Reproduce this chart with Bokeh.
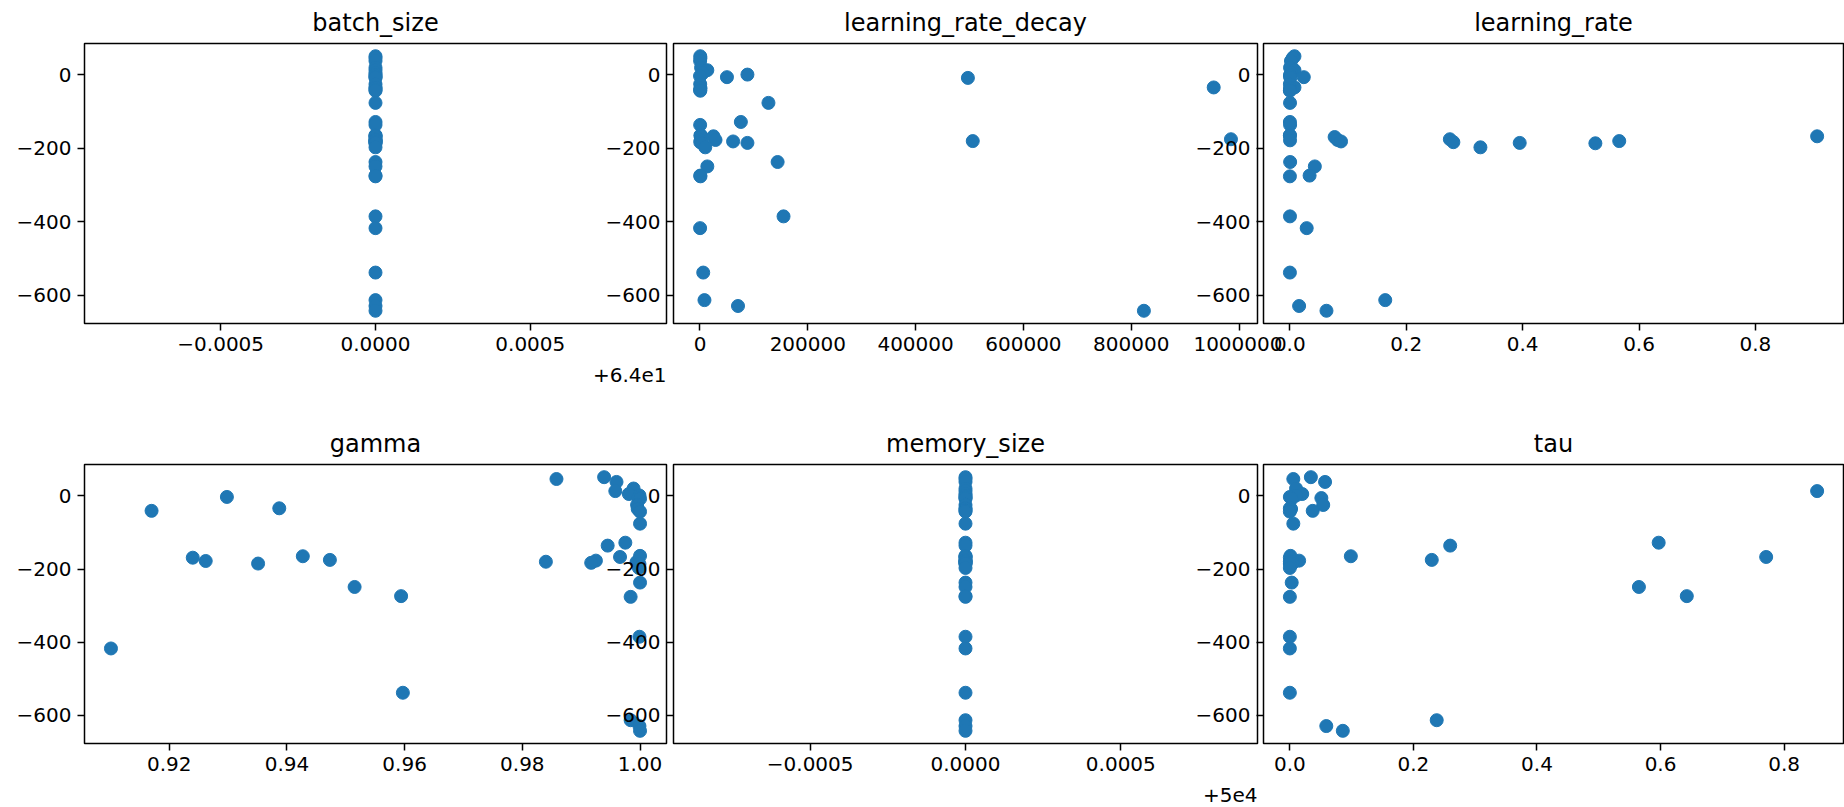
from bokeh.plotting import figure
from bokeh.models import Range1d, FixedTicker, CustomJSTickFormatter, Title
from bokeh.layouts import row, column
from bokeh.embed import file_html
from bokeh.resources import INLINE

# ---------------- data (one entry per trial) ----------------
reward = [51, 46, 38, 20, 13, 5, 1, -3, -6, -8, -25, -34, -36, -41, -43, -76,
          -128, -136,
          -164, -165, -167, -169, -175, -177, -178, -180, -181, -183, -185, -186, -197,
          -237, -249, -274, -276,
          -385, -417, -538, -613, -629, -642]

batch_size = [64, 64, 64, 64, 64, 64, 64, 64, 64, 64, 64, 64, 64, 64, 64, 64,
              64, 64,
              64, 64, 64, 64, 64, 64, 64, 64, 64, 64, 64, 64, 64,
              64, 64, 64, 64,
              64, 64, 64, 64, 64, 64]

learning_rate_decay = [500, 800, 300, 2000, 13600, 5000, 88000, 100, 50000, 497000, 400, 953000, 1000, 200, 600, 127000,
                       75800, 300,
                       1500, 700, 25000, 3000, 985000, 28800, 1200, 506000, 61400, 500, 88000, 4000, 9800,
                       144000, 13600, 400, 900,
                       155000, 200, 6000, 8300, 70500, 823500]

learning_rate = [0.008, 0.005, 0.002, 0.0004, 0.008, 0.003, 0.0006, 0.0003, 0.024, 0.001, 0.0002, 0.008, 0.0005, 0.0003, 0.0001, 0.0004,
                 0.0002, 0.0005,
                 0.0003, 0.0001, 0.906, 0.077, 0.275, 0.082, 0.0004, 0.566, 0.088, 0.281, 0.395, 0.525, 0.3275,
                 0.0006, 0.043, 0.034, 0.0002,
                 0.0003, 0.029, 0.0002, 0.164, 0.016, 0.063]

gamma = [0.9939, 0.9858, 0.9960, 0.9989, 0.9958, 0.9981, 0.9999, 0.9298, 0.9997, 1.0, 0.9995, 0.9387, 0.9996, 0.9170, 1.0, 1.0,
         0.9975, 0.9945,
         1.0, 0.9427, 0.9966, 0.9240, 0.9473, 0.9925, 0.9262, 0.9840, 0.9994, 0.9917, 0.9351, 0.9999, 0.9998,
         1.0, 0.9515, 0.9594, 0.9984,
         0.9999, 0.9101, 0.9597, 0.9984, 0.9999, 1.0]

memory_size = [50000, 50000, 50000, 50000, 50000, 50000, 50000, 50000, 50000, 50000, 50000, 50000, 50000, 50000, 50000, 50000,
               50000, 50000,
               50000, 50000, 50000, 50000, 50000, 50000, 50000, 50000, 50000, 50000, 50000, 50000, 50000,
               50000, 50000, 50000, 50000,
               50000, 50000, 50000, 50000, 50000, 50000]

tau = [0.034, 0.0056, 0.057, 0.010, 0.8535, 0.020, 0.010, 0.0, 0.051, 0.003, 0.054, 0.0, 0.002, 0.037, 0.0, 0.0056,
       0.597, 0.2595,
       0.001, 0.0987, 0.771, 0.0, 0.2297, 0.015, 0.002, 0.0, 0.005, 0.001, 0.004, 0.0, 0.0,
       0.003, 0.565, 0.6425, 0.0,
       0.0, 0.0, 0.0, 0.2377, 0.059, 0.0857]

# tick positions / labels
y_ticks = [-600, -400, -200, 0]
batch_size_ticks = [-0.0005, 0.0, 0.0005]          # relative to the offset 64
learning_rate_decay_ticks = [0, 200000, 400000, 600000, 800000, 1000000]
learning_rate_ticks = [0.0, 0.2, 0.4, 0.6, 0.8]
gamma_ticks = [0.92, 0.94, 0.96, 0.98, 1.00]
memory_size_ticks = [-0.0005, 0.0, 0.0005]          # relative to the offset 50000
tau_ticks = [0.0, 0.2, 0.4, 0.6, 0.8]

# ---------------- styling ----------------
FONT = "DejaVu Sans"
TICK_SIZE = "20px"
TITLE_SIZE = "24px"
BLUE = "#1f77b4"
LW = 1.5
SINGULAR_HALF = 0.00094


def padded(vals):
    lo, hi = min(vals), max(vals)
    pad = 0.05 * (hi - lo)
    return lo - pad, hi + pad


Y_LO, Y_HI = padded(reward)


def make_panel(title, xs, ticks, decimals, offset=None, offset_text=None,
               frame_w=582, frame_h=280, shift=0, border_right=25, border_bottom=98):
    if offset is not None:
        x_lo, x_hi = offset - SINGULAR_HALF, offset + SINGULAR_HALF
        tick_pos = [offset + t for t in ticks]
        off = offset
    else:
        x_lo, x_hi = padded(xs)
        tick_pos = list(ticks)
        off = 0.0
    p = figure(frame_width=frame_w, frame_height=frame_h,
               min_border_left=84, min_border_right=border_right,
               min_border_top=43, min_border_bottom=border_bottom,
               x_range=Range1d(x_lo, x_hi), y_range=Range1d(Y_LO, Y_HI),
               output_backend="svg", toolbar_location=None, title=title,
               margin=(0, 0, 0, shift))
    p.scatter(xs, reward, size=13, fill_color=BLUE, line_color=BLUE, line_width=1)

    p.xaxis.ticker = FixedTicker(ticks=tick_pos)
    p.xaxis.formatter = CustomJSTickFormatter(
        args=dict(offset=off, decimals=decimals),
        code="let v = tick - offset; if (Math.abs(v) < 1e-12) { v = 0; } "
             "return v.toFixed(decimals).replace('-', '\u2212');")
    p.yaxis.ticker = FixedTicker(ticks=y_ticks)
    p.yaxis.formatter = CustomJSTickFormatter(
        code="return tick.toFixed(0).replace('-', '\u2212');")

    for ax in (p.xaxis[0], p.yaxis[0]):
        ax.major_label_text_font = FONT
        ax.major_label_text_font_size = TICK_SIZE
        ax.major_label_text_color = "black"
        ax.major_tick_out = 7
        ax.major_tick_in = 0
        ax.major_tick_line_width = LW
        ax.major_tick_line_color = "black"
        ax.minor_tick_line_color = None
        ax.axis_line_color = None
        ax.major_label_standoff = 6
    p.xgrid.visible = False
    p.ygrid.visible = False
    p.outline_line_color = "black"
    p.outline_line_width = LW
    p.outline_line_alpha = 1.0
    p.background_fill_color = "white"
    p.border_fill_color = None

    p.title.text_font = FONT
    p.title.text_font_size = TITLE_SIZE
    p.title.text_font_style = "normal"
    p.title.text_color = "black"
    p.title.align = "center"
    p.title.standoff = 13

    if offset_text:
        p.add_layout(Title(text=offset_text, align="right", text_font=FONT,
                           text_font_size=TICK_SIZE, text_font_style="normal",
                           text_color="black", standoff=24), "below")
    return p


p1 = make_panel("batch_size", batch_size, batch_size_ticks, 4, offset=64, offset_text="+6.4e1",
                frame_w=582, shift=0)
p2 = make_panel("learning_rate_decay", learning_rate_decay, learning_rate_decay_ticks, 0,
                frame_w=584, shift=-102)
p3 = make_panel("learning_rate", learning_rate, learning_rate_ticks, 1,
                frame_w=580, shift=-103, border_right=1)

p4 = make_panel("gamma", gamma, gamma_ticks, 2, frame_w=582, frame_h=279, shift=0, border_bottom=62)
p5 = make_panel("memory_size", memory_size, memory_size_ticks, 4, offset=50000, offset_text="+5e4",
                frame_w=584, frame_h=279, shift=-102, border_bottom=62)
p6 = make_panel("tau", tau, tau_ticks, 1, frame_w=580, frame_h=279, shift=-103, border_right=1,
                border_bottom=62)

layout = column(row(p1, p2, p3), row(p4, p5, p6), height=807,
                styles={"overflow": "hidden"})

with open("out.html", "w") as f:
    f.write(file_html(layout, INLINE))
